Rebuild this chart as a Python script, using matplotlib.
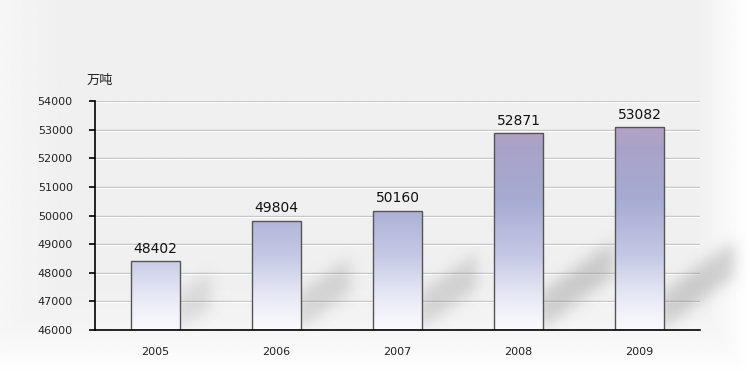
import matplotlib.pyplot as plt
import numpy as np
from matplotlib.colors import LinearSegmentedColormap
from matplotlib.path import Path

# --- dados ---
years = ['2005', '2006', '2007', '2008', '2009']
values = [48402, 49804, 50160, 52871, 53082]
yticks = [46000, 47000, 48000, 49000, 50000, 51000, 52000, 53000, 54000]
unit = '万吨'

plt.rcParams['font.family'] = ['Noto Sans CJK SC', 'DejaVu Sans']

fig = plt.figure(figsize=(7.5, 3.75), dpi=100)

# fundo: cinza claro, clareando para baixo e para a direita
bg = fig.add_axes([0, 0, 1, 1])
bg.set_axis_off()
yy, xx = np.mgrid[0:1:200j, 0:1:400j]
shade = 0.94 + 0.06 * np.clip((0.25 - yy) / 0.25, 0, 1) ** 1.5
shade = np.maximum(shade, 0.94 + 0.06 * np.clip((xx - 0.93) / 0.07, 0, 1))
shade = np.maximum(shade, 0.94 + 0.025 * np.clip((0.08 - xx) / 0.08, 0, 1))
bg.imshow(shade, cmap='gray', vmin=0, vmax=1, extent=[0, 1, 0, 1],
          origin='lower', aspect='auto')
bg.set_xlim(0, 1)
bg.set_ylim(0, 1)

ax = fig.add_axes([95 / 750, 1 - 330 / 375, 605 / 750, 229 / 375])
ax.patch.set_alpha(0)
x = np.arange(len(years))
w = 0.41
ax.set_xlim(-0.5, 4.5)
ax.set_ylim(46000, 54000)

# linhas de grade com realce branco
for t in yticks[1:]:
    ax.axhline(t, color='#c4c4c4', lw=1.0, zorder=1)
    ax.axhline(t - 35, color='white', lw=0.8, zorder=1)

# sombras diagonais desfocadas (grade em pixels da área do gráfico)
px_x, px_y = 121.0, 229.0 / 8000
sx0, sx1 = -0.5, 5.0
nc, nr = int((sx1 - sx0) * px_x), 229
cc, rr = np.meshgrid(np.arange(nc) + 0.5, np.arange(nr) + 0.5)
pts = np.column_stack([cc.ravel(), rr.ravel()])
mask = np.zeros(nc * nr)
for xi, v in zip(x, values):
    h = (v - 46000) * px_y
    L = min(70.0, 0.45 * h)
    xr = (xi + w / 2 - sx0) * px_x
    poly = Path([(xr - 4, 0), (xr - 4, 36), (xr + L, 0.8 * L + 34),
                 (xr + L, 0.8 * L - 2)])
    inside = poly.contains_points(pts)
    mask = np.maximum(mask, inside * np.clip(0.35 + h / 250, 0, 1))
mask = mask.reshape(nr, nc)
g = np.exp(-0.5 * (np.arange(-21, 22) / 7.0) ** 2)
g /= g.sum()
mask = np.apply_along_axis(lambda r: np.convolve(r, g, mode='same'), 1, mask)
mask = np.apply_along_axis(lambda c: np.convolve(c, g, mode='same'), 0, mask)
rgba = np.zeros((nr, nc, 4))
rgba[..., :3] = 0.45
rgba[..., 3] = mask * 0.3
shadow = ax.imshow(rgba, origin='lower', aspect='auto', zorder=1.5,
                   extent=[sx0, sx1, 46000, 54000], interpolation='bilinear')
shadow.set_clip_on(False)

# barras com degradê
cmap = LinearSegmentedColormap.from_list(
    'barra', [(0, '#fbfbfe'), (0.15, '#e8e9f5'), (0.35, '#c4c7e4'),
              (0.6, '#a6abd2'), (0.85, '#aaa2c8'), (1, '#b9a2bf')])
grad = np.linspace(0, 1, 256).reshape(-1, 1)
bars = ax.bar(x, np.array(values) - 46000, w, bottom=46000, color='none',
              edgecolor='#555555', lw=1.0, zorder=3)
for b, xi, v in zip(bars, x, values):
    im = ax.imshow(grad, cmap=cmap, origin='lower', aspect='auto',
                   extent=[xi - w / 2, xi + w / 2, 46000, 53600], zorder=2)
    im.set_clip_path(b)
    ax.text(xi, v + 200, str(v), ha='center', va='bottom', fontsize=10,
            family='DejaVu Sans', fontweight='medium', color='#111111',
            zorder=4)
ax.set_xlim(-0.5, 4.5)
ax.set_ylim(46000, 54000)

ax.set_yticks(yticks)
ax.set_yticklabels([str(t) for t in yticks], fontsize=8,
                   family='DejaVu Sans', color='#222222')
ax.set_xticks(x)
ax.set_xticklabels(years, fontsize=8, family='DejaVu Sans', color='#222222')
ax.tick_params(axis='y', direction='out', length=4, width=1.2, pad=12,
               color='black')
ax.tick_params(axis='x', length=0, pad=12)
for sp in ['top', 'right']:
    ax.spines[sp].set_visible(False)
ax.spines['left'].set_linewidth(1.2)
ax.spines['bottom'].set_linewidth(1.2)
ax.spines['left'].set_zorder(5)
ax.spines['bottom'].set_zorder(5)

fig.text(87 / 750, 1 - 80 / 375, unit, fontsize=9.5, ha='left', va='center',
         color='#222222')

fig.savefig('out.png', dpi=100)
